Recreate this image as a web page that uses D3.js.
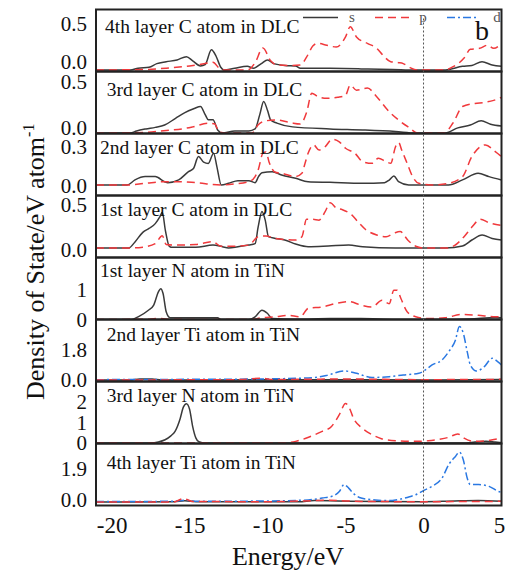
<!DOCTYPE html>
<html>
<head>
<meta charset="utf-8">
<script src="https://cdn.jsdelivr.net/npm/d3@7"></script>
<style>
  body { margin: 0; background: #fff; }
  text { font-family: 'Liberation Serif', 'Times New Roman', serif; }
</style>
</head>
<body>
<div id="chart"></div>
<script>
const S_COLOR = '#3a3a3a'
const P_COLOR = '#f0393c'
const D_COLOR = '#2a78e2'
const LINE_WIDTH = 1.5
const FRAME_COLOR = '#222'

// ===================== DATA =====================
// each series: [energy (eV), DOS]
const energyTicks = [-20, -15, -10, -5, 0, 5]
const energyTickLabels = ['-20', '-15', '-10', '-5', '0', '5']

const titles = [
  '4th layer C atom in DLC',
  '3rd layer C atom in DLC',
  '2nd layer C atom in DLC',
  '1st layer C atom in DLC',
  '1st layer N atom in TiN',
  '2nd layer Ti atom in TiN',
  '3rd layer N atom in TiN',
  '4th layer Ti atom in TiN'
]
const yTicks = [[0, 0.5], [0, 0.5], [0, 0.3], [0, 0.5], [0, 1], [0, 1.8], [0, 1, 2], [0, 1.9]]
const yTickLabels = [['0.0', '0.5'], ['0.0', '0.5'], ['0.0', '0.3'], ['0.0', '0.5'], ['0', '1'], ['0.0', '1.8'], ['0', '1', '2'], ['0.0', '1.9']]
const yDomains = [[-0.016, 0.658], [-0.005, 0.603], [-0.083, 0.406], [-0.109, 0.603], [0, 2.07], [-0.09, 3.62], [-0.024, 3.0], [-0.2, 3.36]]

const c4s = [[-21,0],[-18.8,0],[-18.3,0.02],[-17.6,0.03],[-17.1,0.07],[-16.5,0.09],[-15.8,0.11],[-15.2,0.145],[-14.8,0.1],[-14.3,0.045],[-14.0,0.06],[-13.6,0.22],[-13.3,0.15],[-13.0,0.03],[-12.8,0],[-12.1,0.02],[-11.3,0.04],[-10.9,0.02],[-10.4,0.07],[-10.0,0.11],[-9.6,0.07],[-8.9,0.05],[-8.2,0.045],[-7.9,0.02],[-6,0.018],[-4,0.012],[-2,0.006],[-0.5,0],[1.4,0],[2.5,0.04],[3.1,0.05],[3.75,0.09],[4.4,0.055],[5,0.04]]
const c4p = [[-21,0],[-18,0.005],[-16.5,0.02],[-15,0.045],[-14,0.07],[-13.5,0.085],[-13.1,0.02],[-12.8,0],[-11.3,0],[-10.8,0.08],[-10.3,0.24],[-9.8,0.1],[-9.4,0.055],[-8.5,0.05],[-7.9,0.055],[-7.5,0.14],[-7.1,0.26],[-6.8,0.29],[-6.2,0.27],[-5.6,0.25],[-5.0,0.36],[-4.7,0.47],[-4.3,0.36],[-3.6,0.29],[-3.0,0.236],[-2.6,0.16],[-2.1,0.09],[-1.6,0.08],[-1.3,0.07],[-0.9,0.03],[-0.4,0],[1.3,0],[1.9,0.036],[2.6,0.13],[3.0,0.225],[3.6,0.236],[4.1,0.27],[4.5,0.236],[5,0.29]]

const c3s = [[-21,0],[-18.8,0],[-18.4,0.02],[-17.8,0.04],[-17.2,0.055],[-16.6,0.078],[-15.9,0.144],[-15.3,0.2],[-14.7,0.24],[-14.3,0.26],[-14.0,0.18],[-13.8,0.13],[-13.5,0.13],[-13.2,0.03],[-12.9,0],[-12.1,0.02],[-11.2,0.02],[-10.8,0.04],[-10.5,0.18],[-10.25,0.31],[-10.0,0.22],[-9.8,0.127],[-9.4,0.097],[-8.4,0.06],[-6,0.04],[-3.9,0.03],[-1.8,0.015],[-0.5,0],[1.4,0],[2.2,0.05],[3,0.078],[3.7,0.12],[4.3,0.085],[5,0.068]]
const c3p = [[-21,0],[-18,0.005],[-16.5,0.025],[-15.5,0.04],[-14.8,0.06],[-13.8,0.095],[-13.4,0.09],[-13.1,0.01],[-12.7,0],[-11.0,0],[-10.6,0.08],[-10.1,0.12],[-9.4,0.127],[-8.5,0.1],[-7.9,0.088],[-7.5,0.2],[-7.16,0.39],[-6.8,0.36],[-6.2,0.34],[-5.5,0.35],[-5.0,0.37],[-4.7,0.47],[-4.3,0.42],[-3.6,0.44],[-3.0,0.356],[-2.3,0.225],[-1.6,0.127],[-0.9,0.05],[-0.4,0],[1.3,0],[1.9,0.1],[2.5,0.26],[3.3,0.29],[3.9,0.3],[4.5,0.32],[5,0.35]]

const c2s = [[-21,0],[-19,0],[-18.5,0.04],[-17.85,0.066],[-17.2,0.066],[-16.6,0.026],[-16.4,0.018],[-15.7,0.04],[-15.07,0.105],[-14.75,0.13],[-14.43,0.224],[-14.1,0.18],[-13.8,0.17],[-13.46,0.25],[-13.25,0.145],[-12.97,0],[-12.5,0.013],[-11.9,0.034],[-11.2,0.034],[-10.8,0.018],[-10.58,0.066],[-10.36,0.097],[-9.7,0.105],[-9.1,0.079],[-8.2,0.053],[-7.4,0.026],[-6,0.021],[-3.9,0.013],[-2.5,0.018],[-2.2,0.039],[-1.9,0.071],[-1.6,0.026],[-0.95,0],[1.6,0],[2.5,0.04],[3.5,0.092],[4.2,0.066],[5,0.04]]
const c2p = [[-21,0],[-19,0],[-17.85,0.013],[-16.6,0.026],[-15.7,0.026],[-14.6,0.018],[-13,0],[-12.1,0.008],[-11.2,0.026],[-10.8,0.066],[-10.6,0.12],[-10.3,0.25],[-10.1,0.26],[-9.9,0.18],[-9.5,0.1],[-9.1,0.092],[-8.2,0.066],[-7.8,0.092],[-7.6,0.17],[-7.4,0.25],[-7.05,0.316],[-6.7,0.276],[-6.3,0.303],[-5.87,0.36],[-5.4,0.34],[-5,0.29],[-4.4,0.25],[-3.9,0.184],[-3.3,0.171],[-2.9,0.21],[-2.4,0.184],[-2.1,0.171],[-1.8,0.3],[-1.59,0.334],[-1.4,0.276],[-1.05,0.171],[-0.7,0.066],[-0.3,0.013],[0.5,0],[1.6,0.013],[2.5,0.066],[3.1,0.224],[3.97,0.316],[4.6,0.263],[5,0.224]]

const c1s = [[-21,0],[-18.9,0],[-18.5,0.07],[-18.0,0.18],[-17.6,0.225],[-17.2,0.28],[-16.9,0.36],[-16.75,0.41],[-16.55,0.2],[-16.3,0.02],[-16.1,0.008],[-14.6,0.008],[-13.5,0.034],[-12.9,0.015],[-12.5,0],[-11.9,0.015],[-11.2,0.034],[-10.8,0.05],[-10.6,0.245],[-10.36,0.42],[-10.15,0.32],[-9.94,0.13],[-9.5,0.11],[-8.9,0.092],[-8.2,0.046],[-7.4,0.015],[-6.1,0.023],[-4.8,0.034],[-3.9,0.015],[-1.8,0],[1.4,0],[2.5,0.023],[3.1,0.092],[3.76,0.15],[4.4,0.11],[5,0.092]]
const c1p = [[-21,0],[-18.9,0],[-18,0.01],[-17.2,0.05],[-16.75,0.14],[-16.5,0.04],[-16.1,0.034],[-14.6,0.04],[-13.5,0.073],[-13,0.02],[-12.2,0.02],[-11.2,0.034],[-10.6,0.13],[-10.1,0.138],[-9.5,0.11],[-8.2,0.092],[-7.8,0.13],[-7.5,0.33],[-7.1,0.33],[-6.7,0.32],[-6.3,0.42],[-5.98,0.52],[-5.6,0.46],[-5.2,0.44],[-4.6,0.38],[-4.2,0.3],[-3.7,0.21],[-3.0,0.15],[-2.4,0.13],[-1.9,0.17],[-1.5,0.19],[-1.0,0.09],[-0.5,0.02],[0,0],[1.5,0],[2.0,0.03],[2.6,0.13],[3.1,0.24],[3.65,0.33],[4.2,0.29],[5,0.26]]

const n1s = [[-21,0],[-18.7,0],[-18.3,0.09],[-17.64,0.31],[-17.3,0.48],[-17.0,0.92],[-16.85,1.03],[-16.7,0.87],[-16.5,0.26],[-16.25,0.06],[-14.6,0.055],[-13.2,0.055],[-13,0],[-11.2,0],[-10.8,0.09],[-10.36,0.31],[-10.0,0.2],[-9.7,0.03],[-8.2,0.01],[-6,0.03],[-4,0.03],[-1.8,0],[1,0],[3,0.02],[4.6,0.07],[5,0.06]]
const n1p = [[-21,0],[-17.6,0.01],[-17,0.04],[-16.4,0.01],[-13,0],[-11,0],[-10.5,0.05],[-9.5,0.09],[-8.7,0.14],[-7.9,0.09],[-7.4,0.37],[-6.5,0.42],[-5.66,0.53],[-4.8,0.6],[-4.0,0.48],[-3.3,0.42],[-2.66,0.64],[-2.2,0.53],[-1.9,0.98],[-1.7,0.98],[-1.45,0.7],[-1.05,0.26],[-0.5,0.09],[0.3,0.03],[1.4,0.06],[2.47,0.17],[3.5,0.14],[4.6,0.09],[5,0.1]]

const ti2s = [[-21,0],[-18.8,0],[-18.2,0.06],[-17.4,0.06],[-16.8,0],[-5,0.02],[0,0],[5,0.03]]
const ti2p = [[-21,0],[-12,0.02],[-10.4,0.1],[-9.6,0.03],[-5,0.06],[0,0.02],[5,0.04]]
const ti2d = [[-21,0.02],[-15,0.04],[-12,0.05],[-9,0.08],[-7,0.15],[-6.1,0.3],[-5.1,0.54],[-4.3,0.4],[-3.3,0.15],[-2.2,0.2],[-1.3,0.3],[-0.3,0.4],[0.12,0.6],[0.55,0.9],[1.19,1.2],[1.62,1.7],[2.05,2.4],[2.3,3.2],[2.55,2.8],[2.8,1.7],[3.0,0.9],[3.4,0.54],[3.9,0.8],[4.4,1.3],[4.75,1.1],[5,0.9]]

const n3s = [[-21,0],[-17.5,0],[-17,0.05],[-16.57,0.16],[-16.2,0.35],[-15.93,0.57],[-15.6,1.2],[-15.4,1.75],[-15.2,1.92],[-15.0,1.65],[-14.8,0.8],[-14.6,0.25],[-14.4,0.06],[-14.0,0],[2.5,0],[3.3,0.05],[4.0,0.09],[4.6,0.05],[5,0.02]]
const n3p = [[-21,0],[-9,0],[-8.2,0.08],[-7.37,0.28],[-6.5,0.57],[-5.9,0.81],[-5.4,1.38],[-5.0,1.93],[-4.75,1.7],[-4.5,1.22],[-3.94,0.73],[-3.3,0.41],[-2.7,0.21],[-1.8,0.11],[-0.5,0.08],[0.3,0.11],[1.0,0.18],[1.62,0.28],[2.2,0.44],[2.6,0.24],[3.2,0.08],[4,0.11],[5,0.24]]

const ti4s = [[-21,0],[-16,0.02],[-15.3,0.07],[-14.6,0.02],[-8,0.02],[-7,0.08],[-5.5,0.06],[-3,0.03],[0,0.02],[2,0.06],[3.5,0.08],[5,0.04]]
const ti4p = [[-21,0],[-16,0],[-15.4,0.2],[-14.8,0.03],[-10,0.02],[-7,0.08],[-6,0.1],[-4,0.03],[0,0.02],[5,0.04]]
const ti4d = [[-21,0.03],[-16,0.04],[-15.3,0.1],[-14.5,0.04],[-10,0.06],[-7.4,0.12],[-6.5,0.23],[-5.87,0.33],[-5.4,0.6],[-5.1,1.0],[-4.8,0.8],[-4.5,0.5],[-4.0,0.23],[-3.1,0.12],[-2.2,0.08],[-1.6,0.15],[-0.9,0.3],[-0.5,0.42],[0.12,0.71],[0.55,0.9],[1.19,1.38],[1.62,2.15],[2.05,2.62],[2.3,2.87],[2.55,2.43],[2.8,1.38],[3.0,1.0],[3.54,1.0],[4.2,0.9],[4.8,0.61],[5,0.55]]

const seriesS = [c4s, c3s, c2s, c1s, n1s, ti2s, n3s, ti4s]
const seriesP = [c4p, c3p, c2p, c1p, n1p, ti2p, n3p, ti4p]
const seriesD = [null, null, null, null, null, ti2d, null, ti4d]

// ===================== LAYOUT =====================
const WIDTH = 506
const HEIGHT = 571
const margin = {top: 9.5, right: 4.5, bottom: 65.5, left: 96}
const PANEL_H = (HEIGHT - margin.top - margin.bottom) / titles.length
// small nudges of the labels, as in the original figure
const titleOffsets = [[9, 23.8], [10.7, 24.2], [4, 20.5], [4, 20.2], [4, 19.8], [10.7, 21.5], [10.7, 20.5], [10.7, 25.2]]
const zeroLabelShift = [-8.5, -5, 1, 2, 0, 0, 0, -2.5]

var svg = d3.select('#chart').append('svg')
  .attr('width', WIDTH)
  .attr('height', HEIGHT)

var x = d3.scaleLinear()
  .domain([-21, 5])
  .range([margin.left, WIDTH - margin.right])

var styles = [
  {data: seriesS, color: S_COLOR, dash: null},
  {data: seriesD, color: D_COLOR, dash: '8,3,2,3'},
  {data: seriesP, color: P_COLOR, dash: '8,5'}
]

// ===================== PANELS =====================
for (let i = 0; i < titles.length; i++) {
  const top = margin.top + i * PANEL_H
  const bottom = top + PANEL_H
  var y = d3.scaleLinear()
    .domain(yDomains[i])
    .range([bottom, top])

  svg.append('clipPath')
    .attr('id', 'clip' + i)
    .append('rect')
    .attr('x', margin.left)
    .attr('y', top)
    .attr('width', WIDTH - margin.left - margin.right)
    .attr('height', PANEL_H)

  var g = svg.append('g').attr('clip-path', 'url(#clip' + i + ')')
  var line = d3.line()
    .x(d => x(d[0]))
    .y(d => y(d[1]))
    .curve(d3.curveMonotoneX)

  styles.forEach(s => {
    if (!s.data[i]) return
    g.append('path')
      .datum(s.data[i])
      .attr('d', line)
      .attr('fill', 'none')
      .attr('stroke', s.color)
      .attr('stroke-width', LINE_WIDTH)
      .attr('stroke-dasharray', s.dash)
  })

  // y axis labels
  var yAxis = svg.append('g')
    .attr('transform', 'translate(' + margin.left + ',0)')
    .call(d3.axisLeft(y)
      .tickValues(yTicks[i])
      .tickSize(0)
      .tickPadding(9)
      .tickFormat((d, j) => yTickLabels[i][j]))
  yAxis.select('.domain').remove()
  yAxis.selectAll('text')
    .attr('fill', '#111')
    .style('font-size', '21px')
    .style('font-family', 'Liberation Serif')
    .attr('y', (d, j) => j === 0 ? zeroLabelShift[i] : 0)

  // panel title
  svg.append('text')
    .attr('x', margin.left + titleOffsets[i][0])
    .attr('y', top + titleOffsets[i][1])
    .text(titles[i])
    .attr('fill', '#111')
    .style('font-size', '19.5px')

  // frame
  svg.append('rect')
    .attr('x', margin.left)
    .attr('y', top)
    .attr('width', WIDTH - margin.left - margin.right)
    .attr('height', PANEL_H)
    .attr('fill', 'none')
    .attr('stroke', FRAME_COLOR)
    .attr('stroke-width', 2)
}

// Fermi level
svg.append('line')
  .attr('x1', x(0))
  .attr('x2', x(0))
  .attr('y1', margin.top + 9)
  .attr('y2', HEIGHT - margin.bottom)
  .attr('stroke', '#555')
  .attr('stroke-width', 1)
  .attr('stroke-dasharray', '2,2')

// X axis
var xAxis = svg.append('g')
  .attr('transform', 'translate(0,' + (HEIGHT - margin.bottom) + ')')
  .call(d3.axisBottom(x)
    .tickValues(energyTicks)
    .tickSize(0)
    .tickPadding(11)
    .tickFormat((d, j) => energyTickLabels[j]))
xAxis.select('.domain').remove()
xAxis.selectAll('text')
  .attr('fill', '#111')
  .style('font-size', '23px')
  .style('font-family', 'Liberation Serif')
  .attr('dx', (d, j) => j === energyTicks.length - 1 ? -2.5 : 0)

// Axis titles
svg.append('text')
  .attr('x', 288)
  .attr('y', 565)
  .attr('text-anchor', 'middle')
  .attr('fill', '#111')
  .style('font-size', '26px')
  .text('Energy/eV')

var yTitle = svg.append('text')
  .attr('transform', 'translate(44,400)rotate(-90)')
  .attr('fill', '#111')
  .style('font-size', '26px')
  .text('Density of State/eV atom')
yTitle.append('tspan')
  .attr('dy', -10)
  .style('font-size', '16px')
  .text('-1')

// Legend
var legend = svg.append('g')
var legendItems = [
  {label: 's', color: S_COLOR, dash: null, x1: 303, x2: 338, tx: 352},
  {label: 'p', color: P_COLOR, dash: '8,5', x1: 375, x2: 412, tx: 423},
  {label: 'd', color: D_COLOR, dash: '8,3,2,3', x1: 447, x2: 476, tx: 497}
]
legendItems.forEach(item => {
  legend.append('line')
    .attr('x1', item.x1)
    .attr('x2', item.x2)
    .attr('y1', 17.5)
    .attr('y2', 17.5)
    .attr('stroke', item.color)
    .attr('stroke-width', LINE_WIDTH)
    .attr('stroke-dasharray', item.dash)
  legend.append('text')
    .attr('x', item.tx)
    .attr('y', 22)
    .attr('text-anchor', 'middle')
    .attr('fill', '#555')
    .style('font-size', '15px')
    .text(item.label)
})
svg.append('text')
  .attr('x', 482)
  .attr('y', 40)
  .attr('text-anchor', 'middle')
  .attr('fill', '#111')
  .style('font-size', '28px')
  .text('b')
</script>
</body>
</html>
